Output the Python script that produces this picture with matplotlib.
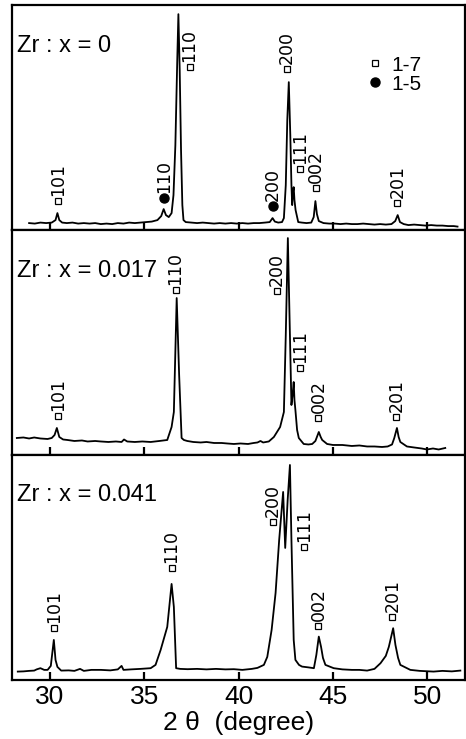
import matplotlib.pyplot as plt
from matplotlib.lines import Line2D

plt.rcParams['font.family'] = ['Liberation Sans', 'DejaVu Sans']

# ---- traces: 2theta (deg) and intensity (a.u., panel units 0-225)
tt1 = [28.9, 29.2, 29.5, 29.8, 30.1, 30.3, 30.4, 30.5, 30.65, 30.9, 31.2, 31.5, 31.8, 32.1,
       32.4, 32.7, 33.0, 33.3, 33.6, 33.9, 34.2, 34.5, 34.8, 35.1, 35.4, 35.7, 35.9, 36.03,
       36.15, 36.3, 36.45, 36.55, 36.65, 36.75, 36.81, 36.88, 36.95, 37.02, 37.08, 37.2,
       37.5, 37.8, 38.1, 38.4, 38.7, 39.0, 39.3, 39.6, 39.9, 40.2, 40.5, 40.8, 41.1, 41.4,
       41.65, 41.8, 41.92, 42.1, 42.3, 42.4, 42.5, 42.58, 42.66, 42.74, 42.8, 42.84, 42.88,
       42.92, 42.96, 43.02, 43.16, 43.35, 43.6, 43.85, 43.98, 44.07, 44.15, 44.25, 44.5,
       44.8, 45.1, 45.4, 45.7, 46.0, 46.3, 46.6, 46.9, 47.2, 47.5, 47.8, 48.1, 48.3, 48.43,
       48.55, 48.75, 49.0, 49.3, 49.6, 49.9, 50.2, 50.5, 50.8, 51.1, 51.4, 51.6]
ii1 = [7, 6.5, 7.5, 7, 7.5, 10, 17, 10, 7.5, 7, 7.5, 6.5, 7, 6.5,
       7, 6, 6.5, 6, 7, 6.5, 7.5, 7, 7.5, 8, 8.5, 10, 14, 21,
       15, 13, 17, 35, 85, 170, 216, 160, 80, 25, 10, 8,
       7.5, 7, 7.5, 7, 6.5, 7, 6.5, 7, 6.5, 7, 6.5, 7, 7, 7.5,
       8, 12, 8.5, 7.5, 8, 12, 45, 110, 148, 95, 45, 25, 38,
       43, 30, 20, 8, 7.5, 7, 7.5, 13, 29, 16, 9, 7,
       6.5, 6.5, 6, 6.5, 6, 6, 6.5, 6, 5.5, 6, 5.5, 6, 9, 15,
       8, 6, 5, 5.5, 5, 4.5, 5, 4.5, 4.5, 4, 4, 3.5]

tt2 = [28.25, 28.6, 28.9, 29.17, 29.5, 29.88, 30.1, 30.25, 30.37, 30.5, 30.7, 30.93, 31.3,
       31.7, 32.0, 32.4, 32.7, 33.1, 33.5, 33.8, 33.93, 34.1, 34.5, 34.9, 35.34, 35.8,
       36.22, 36.45, 36.57, 36.72, 36.85, 36.98, 37.1, 37.28, 37.6, 37.99, 38.3, 38.7,
       39.1, 39.4, 39.75, 40.1, 40.5, 40.8, 41.0, 41.16, 41.3, 41.6, 41.87, 42.2, 42.4,
       42.5, 42.61, 42.72, 42.8, 42.86, 42.92, 42.96, 43.01, 43.1, 43.19, 43.45, 43.7,
       43.9, 44.07, 44.25, 44.35, 44.43, 44.69, 45.0, 45.5, 46.0, 46.4, 46.81, 47.2, 47.6,
       47.9, 48.13, 48.25, 48.39, 48.48, 48.57, 48.92, 49.3, 49.7, 49.98, 50.3, 50.6, 50.95]
ii2 = [17, 17.5, 16.5, 17.5, 16.5, 16, 17, 20, 27, 18, 15.5, 15, 14,
       14.5, 13.5, 14, 13.5, 13, 13.5, 13, 15.5, 13.5, 13, 13.5, 13, 14,
       15, 28, 43, 157, 80, 17, 15, 14, 13, 12.5, 13, 12,
       12, 11.5, 11, 11.5, 11, 12, 12.5, 14, 12.5, 13.5, 18, 28, 43,
       120, 217, 120, 50, 60, 73, 55, 45, 25, 17, 11, 10.5,
       11, 14, 23, 18, 15, 11, 10, 10, 9, 9.5, 8.5, 8.5, 8,
       8.5, 10.5, 17, 27, 18, 13, 8.5, 7.5, 6.5, 5.5, 6.5, 5.5, 7]

tt3 = [28.3, 28.6, 28.9, 29.17, 29.3, 29.5, 29.7, 29.88, 30.05, 30.21, 30.3, 30.4, 30.6,
       31.0, 31.3, 31.6, 31.8, 32.2, 32.7, 33.2, 33.6, 33.8, 33.9, 34.3, 34.8, 35.34, 35.6,
       35.87, 36.22, 36.45, 36.57, 36.69, 36.9, 37.3, 37.8, 38.3, 38.8, 39.3, 39.75, 40.2,
       40.7, 41.0, 41.34, 41.52, 41.75, 41.96, 42.15, 42.36, 42.47, 42.6, 42.72, 42.8,
       42.92, 43.01, 43.2, 43.36, 43.7, 43.99, 44.12, 44.25, 44.37, 44.47, 44.6, 45.04,
       45.5, 46.0, 46.4, 46.81, 47.2, 47.52, 47.8, 47.96, 48.19, 48.31, 48.45, 48.57, 49.1,
       49.6, 50.33, 50.8, 51.3, 51.75]
ii3 = [8.3, 8.5, 9, 9.3, 10.5, 11.7, 10, 10, 14, 40, 20, 13, 9.3,
       9.5, 9, 11, 9, 10, 10, 9.5, 10.5, 14, 10, 10.5, 11, 11.7, 15,
       30, 53, 96, 73, 11.7, 11, 10.7, 11, 10.5, 11, 10.5, 10.7, 10,
       11, 12, 15, 23, 50, 87, 140, 188, 132, 180, 215, 140,
       40, 20, 15, 13.3, 12.5, 11.7, 25, 43.3, 33, 22, 15, 11.7,
       10.5, 10, 10, 9.3, 11, 16.7, 24, 33, 51.7, 35, 22, 15, 10,
       9, 8.3, 9, 8.5, 9.3]

# ---- peak indexing: label, 2theta, marker height, phase (s = 1-7, o = 1-5)
lab1 = ['101', '110', '110', '200', '200', '111', '002', '201']
pos1 = [30.44, 36.05, 37.4, 41.8, 42.54, 43.28, 44.12, 48.41]
hgt1 = [29, 32, 163, 24, 161, 61, 42, 27]
phs1 = ['s', 'o', 's', 'o', 's', 's', 's', 's']

lab2 = ['101', '110', '200', '111', '002', '201']
pos2 = [30.42, 36.66, 42.01, 43.28, 44.23, 48.36]
hgt2 = [39, 165, 164, 87, 37, 38]
phs2 = ['s', 's', 's', 's', 's', 's']

lab3 = ['101', '110', '200', '111', '002', '201']
pos3 = [30.21, 36.45, 41.8, 43.49, 44.23, 48.15]
hgt3 = [52, 112, 158, 133, 54, 63]
phs3 = ['s', 's', 's', 's', 's', 's']

titles = ['Zr : x = 0', 'Zr : x = 0.017', 'Zr : x = 0.041']
xticks = [30, 35, 40, 45, 50]

fig = plt.figure(figsize=(4.66, 7.39), dpi=100)
axs = fig.subplots(3, 1, sharex=True, gridspec_kw={'hspace': 0})
fig.subplots_adjust(left=0.026, right=0.998, bottom=0.08, top=0.993)

data = [(tt1, ii1, lab1, pos1, hgt1, phs1),
        (tt2, ii2, lab2, pos2, hgt2, phs2),
        (tt3, ii3, lab3, pos3, hgt3, phs3)]

for ax, (tt, ii, lab, pos, hgt, phs), title in zip(axs, data, titles):
    ax.plot(tt, ii, color='black', lw=1.3)
    for l, p, h, ph in zip(lab, pos, hgt, phs):
        if ph == 's':
            ax.plot(p, h, 's', mfc='white', mec='black', ms=4.8, mew=0.9)
        else:
            ax.plot(p, h, 'o', color='black', ms=6.5)
        ax.annotate(l, (p, h), xytext=(0, 3.5), textcoords='offset points',
                    rotation=90, ha='center', va='bottom', fontsize=12.5,
                    family='DejaVu Sans')
    ax.text(0.011, 0.82, title, transform=ax.transAxes, fontsize=17,
            ha='left', va='center')
    ax.set_ylim(0, 225)
    ax.set_xlim(28, 52)
    ax.set_yticks([])
    ax.set_xticks(xticks)
    ax.tick_params(axis='x', direction='in', length=6, width=1.6, labelsize=19, pad=4)
    for s in ax.spines.values():
        s.set_linewidth(1.6)

handles = [Line2D([], [], marker='s', ls='none', mfc='white', mec='black', ms=4.8, mew=0.9),
           Line2D([], [], marker='o', ls='none', color='black', ms=6.5)]
axs[0].legend(handles, ['1-7', '1-5'], loc='upper left', bbox_to_anchor=(0.782, 0.775),
              frameon=False, fontsize=15, handlelength=0.8, handletextpad=0.4,
              labelspacing=0.0, borderpad=0, borderaxespad=0)

axs[2].set_xlabel('2 θ  (degree)', fontsize=19, labelpad=1)

fig.savefig('out.png', dpi=100)
